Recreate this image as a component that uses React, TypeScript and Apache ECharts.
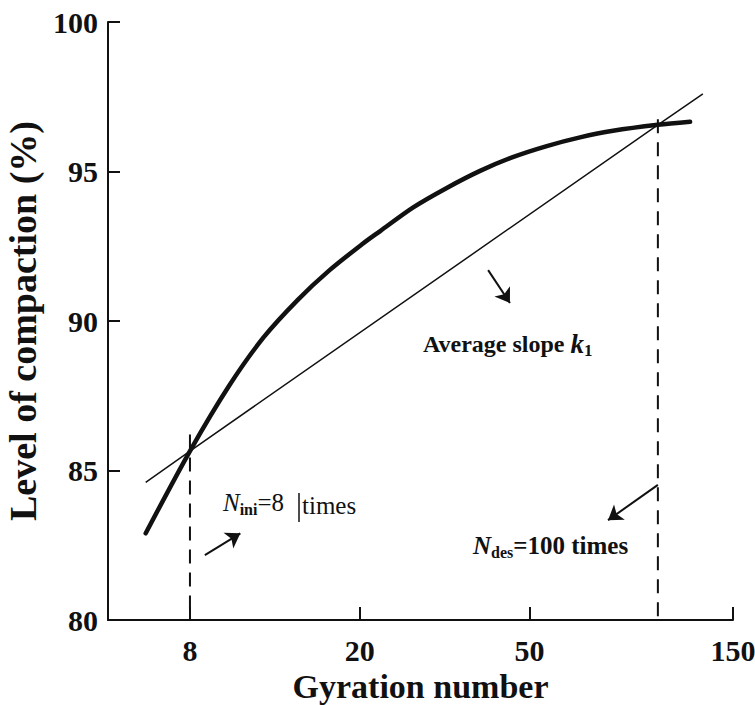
import React, { useEffect, useRef } from "react";
import * as echarts from "echarts";

// Gyration number (log scale) vs level of compaction (%)
const xTickLabels = [8, 20, 50, 150];
const yTicks = [80, 85, 90, 95, 100];

// Compaction curve
const curveGyration = [6.3, 8, 9.9, 11.9, 14.3, 17, 20.4, 22.3, 26.7, 32, 38.3, 45.7, 54.9, 65.7, 78.5, 100, 119];
const curveLevel = [82.9, 85.65, 87.85, 89.45, 90.7, 91.7, 92.6, 93.0, 93.8, 94.45, 95.02, 95.48, 95.85, 96.14, 96.36, 96.56, 96.66];

// Average slope line through N_ini and N_des
const slopeGyration = [6.3, 8, 100, 127.5];
const slopeLevel = [84.6, 85.65, 96.56, 97.6];

// Reference gyration levels
const nIni = 8;
const nDes = 100;
const nIniTop = 86.2;
const nDesTop = 96.75;

// Annotation arrows [fromN, fromLevel, toN, toLevel]
const arrowSlope = [40, 91.7, 45, 90.6];
const arrowIni = [8.67, 82.17, 10.5, 82.9];
const arrowDes = [100, 84.52, 76.4, 83.34];

const FONT = '"Liberation Serif", "Times New Roman", serif';
const INK = "#111";

export default function App() {
  const ref = useRef<HTMLDivElement>(null);

  useEffect(() => {
    if (!ref.current) return;
    const chart = echarts.init(ref.current, undefined, { renderer: "svg" });

    const curve = curveGyration.map((g, i) => [g, curveLevel[i]]);
    const slope = slopeGyration.map((g, i) => [g, slopeLevel[i]]);
    const arrows = [arrowSlope, arrowIni, arrowDes].map((a) => ({
      coords: [
        [a[0], a[1]],
        [a[2], a[3]],
      ],
    }));

    const option: any = {
      animation: false,
      backgroundColor: "#fff",
      grid: { left: 108, right: 22, top: 22, bottom: 85, containLabel: false, outerBoundsMode: "none" },
      xAxis: {
        type: "log",
        logBase: 10,
        min: 5.14,
        max: 150,
        name: "Gyration number",
        nameLocation: "middle",
        nameGap: 43,
        nameTextStyle: { fontFamily: FONT, fontWeight: "bold", fontSize: 34, lineHeight: 34, color: INK },
        axisLine: { show: true, lineStyle: { color: INK, width: 2 } },
        axisTick: { show: true, inside: true, length: 13, lineStyle: { color: INK, width: 2 }, customValues: xTickLabels },
        axisLabel: {
          show: true,
          customValues: xTickLabels,
          margin: 15,
          fontFamily: FONT,
          fontWeight: "bold",
          fontSize: 30,
          color: INK,
          formatter: (v: number) => String(Math.round(v)),
        },
        splitLine: { show: false },
        minorTick: { show: false },
      },
      yAxis: {
        type: "value",
        min: yTicks[0],
        max: yTicks[yTicks.length - 1],
        interval: 5,
        name: "Level of compaction (%)",
        nameLocation: "middle",
        nameGap: 64,
        nameTextStyle: { fontFamily: FONT, fontWeight: "bold", fontSize: 38, color: INK },
        axisLine: { show: true, lineStyle: { color: INK, width: 2 } },
        axisTick: { show: true, inside: true, length: 12, lineStyle: { color: INK, width: 2 } },
        axisLabel: { margin: 10, fontFamily: FONT, fontWeight: "bold", fontSize: 30, color: INK },
        splitLine: { show: false },
      },
      series: [
        {
          name: "slope",
          type: "line",
          data: slope,
          symbol: "none",
          lineStyle: { color: INK, width: 1.5 },
          z: 3,
        },
        {
          name: "compaction",
          type: "line",
          data: curve,
          smooth: 0.3,
          symbol: "none",
          lineStyle: { color: INK, width: 4.5, cap: "round" },
          z: 4,
        },
        {
          name: "Nini",
          type: "line",
          data: [
            [nIni, nIniTop],
            [nIni, yTicks[0]],
          ],
          symbol: "none",
          lineStyle: { color: INK, width: 2, type: [14, 9] },
          z: 2,
        },
        {
          name: "Ndes",
          type: "line",
          data: [
            [nDes, nDesTop],
            [nDes, yTicks[0]],
          ],
          symbol: "none",
          lineStyle: { color: INK, width: 2, type: [14, 9] },
          z: 2,
        },
        {
          name: "arrows",
          type: "lines",
          coordinateSystem: "cartesian2d",
          data: arrows,
          symbol: ["none", "arrow"],
          symbolSize: 14,
          lineStyle: { color: INK, width: 2, opacity: 1, curveness: 0 },
          z: 5,
        },
      ],
      graphic: [
        {
          type: "text",
          left: 423,
          top: 330,
          style: {
            text: "Average slope {k|k}{s|1}",
            font: `bold 24px ${FONT}`,
            fill: INK,
            rich: {
              k: { fontFamily: FONT, fontWeight: "bold", fontStyle: "italic", fontSize: 27, fill: INK, lineHeight: 30 },
              s: { fontFamily: FONT, fontWeight: "bold", fontSize: 17, fill: INK, verticalAlign: "bottom", lineHeight: 22 },
            },
          },
        },
        {
          type: "text",
          left: 223,
          top: 490,
          style: {
            text: "{n|N}{s|ini}{t|=8}",
            fill: INK,
            rich: {
              n: { fontFamily: FONT, fontStyle: "italic", fontSize: 25, fill: INK, lineHeight: 30 },
              s: { fontFamily: FONT, fontWeight: "bold", fontSize: 16, fill: INK, verticalAlign: "bottom", lineHeight: 20 },
              t: { fontFamily: FONT, fontSize: 25, fill: INK, lineHeight: 30 },
            },
          },
        },
        {
          type: "line",
          shape: { x1: 299, y1: 493, x2: 299, y2: 522 },
          style: { stroke: INK, lineWidth: 1.5 },
        },
        {
          type: "text",
          left: 302,
          top: 490,
          style: {
            text: "times",
            font: `25px ${FONT}`,
            fill: INK,
            lineHeight: 30,
          },
        },
        {
          type: "text",
          left: 473,
          top: 533,
          style: {
            text: "{n|N}{s|des}{t|=100 times}",
            fill: INK,
            rich: {
              n: { fontFamily: FONT, fontWeight: "bold", fontStyle: "italic", fontSize: 25, fill: INK, lineHeight: 30 },
              s: { fontFamily: FONT, fontWeight: "bold", fontSize: 16, fill: INK, verticalAlign: "bottom", lineHeight: 20 },
              t: { fontFamily: FONT, fontWeight: "bold", fontSize: 25, fill: INK, lineHeight: 30 },
            },
          },
        },
      ],
    };

    chart.setOption(option);
    return () => chart.dispose();
  }, []);

  return (
    <div
      ref={ref}
      style={{ position: "fixed", left: 0, top: 0, width: 755, height: 705, background: "#fff" }}
    />
  );
}
